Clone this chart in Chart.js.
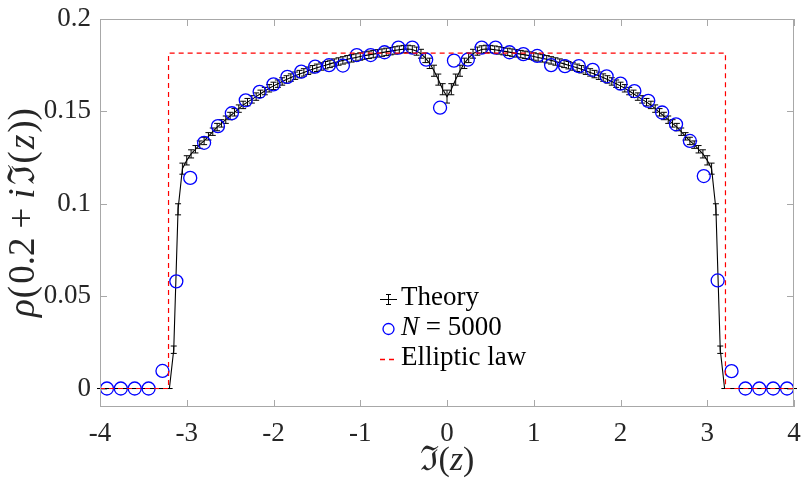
<!DOCTYPE html>
<html>
<head>
<meta charset="utf-8">
<script src="https://cdn.jsdelivr.net/npm/chart.js@4.4.0/dist/chart.umd.min.js"></script>
<style>
  html, body { margin: 0; padding: 0; background: #fff; }
  #wrap { width: 803px; height: 483px; }
</style>
</head>
<body>
<div id="wrap"><canvas id="chart" width="803" height="483"></canvas></div>
<script>
// ===============================
// Data
// ===============================
const xTicks = [-4, -3, -2, -1, 0, 1, 2, 3, 4];
const yTicks = [0, 0.05, 0.1, 0.15, 0.2];

// theory curve, sampled every 0.05 from -4 to 4
const theoryStart = -4;
const theoryStep = 0.05;
const theoryY = [
  0, 0, 0, 0, 0, 0, 0, 0, 0, 0, 0, 0, 0, 0, 0, 0, 0,
  0.021, 0.097, 0.119, 0.1235, 0.127, 0.1295, 0.132, 0.134, 0.1365, 0.139,
  0.1415, 0.1435, 0.1455, 0.1475, 0.1495, 0.1515, 0.1535, 0.155, 0.1565, 0.158,
  0.1595, 0.161, 0.1625, 0.1638, 0.165, 0.1662, 0.1673, 0.1683, 0.1693, 0.1702,
  0.1711, 0.172, 0.1728, 0.1736, 0.1743, 0.175, 0.1757, 0.1764, 0.177, 0.1776,
  0.1782, 0.1787, 0.1792, 0.1797, 0.1802, 0.1806, 0.181, 0.1814, 0.1818, 0.1822,
  0.1826, 0.183, 0.1834, 0.1837, 0.1838, 0.1835, 0.1826, 0.1812, 0.179, 0.176,
  0.172, 0.1672, 0.162,
  0.158,
  0.162, 0.1672, 0.172, 0.176, 0.179, 0.1812, 0.1826, 0.1835, 0.1838, 0.1837,
  0.1834, 0.183, 0.1826, 0.1822, 0.1818, 0.1814, 0.181, 0.1806, 0.1802, 0.1797,
  0.1792, 0.1787, 0.1782, 0.1776, 0.177, 0.1764, 0.1757, 0.175, 0.1743, 0.1736,
  0.1728, 0.172, 0.1711, 0.1702, 0.1693, 0.1683, 0.1673, 0.1662, 0.165, 0.1638,
  0.1625, 0.161, 0.1595, 0.158, 0.1565, 0.155, 0.1535, 0.1515, 0.1495, 0.1475,
  0.1455, 0.1435, 0.1415, 0.139, 0.1365, 0.134, 0.132, 0.1295, 0.127, 0.1235,
  0.119, 0.097, 0.021,
  0, 0, 0, 0, 0, 0, 0, 0, 0, 0, 0, 0, 0, 0, 0, 0, 0
];
const theoryErr = [
  0, 0, 0, 0, 0, 0, 0, 0, 0, 0, 0, 0, 0, 0, 0, 0, 0,
  0.002, 0.003, 0.003, 0.0025, 0.0022, 0.002, 0.002, 0.002, 0.002, 0.002,
  0.002, 0.002, 0.002, 0.002, 0.002, 0.002, 0.002, 0.002, 0.002, 0.002,
  0.002, 0.002, 0.002, 0.002, 0.002, 0.002, 0.002, 0.002, 0.002, 0.002,
  0.002, 0.002, 0.002, 0.002, 0.002, 0.002, 0.002, 0.002, 0.002, 0.002,
  0.002, 0.002, 0.002, 0.002, 0.002, 0.002, 0.002, 0.002, 0.002, 0.002,
  0.002, 0.002, 0.002, 0.002, 0.002, 0.002, 0.0022, 0.0024, 0.0026, 0.0028,
  0.003, 0.003, 0.003,
  0.0035,
  0.003, 0.003, 0.003, 0.0028, 0.0026, 0.0024, 0.0022, 0.002, 0.002, 0.002,
  0.002, 0.002, 0.002, 0.002, 0.002, 0.002, 0.002, 0.002, 0.002, 0.002,
  0.002, 0.002, 0.002, 0.002, 0.002, 0.002, 0.002, 0.002, 0.002, 0.002,
  0.002, 0.002, 0.002, 0.002, 0.002, 0.002, 0.002, 0.002, 0.002, 0.002,
  0.002, 0.002, 0.002, 0.002, 0.002, 0.002, 0.002, 0.002, 0.002, 0.002,
  0.002, 0.002, 0.002, 0.002, 0.002, 0.002, 0.002, 0.002, 0.0022, 0.0025,
  0.003, 0.003, 0.002,
  0, 0, 0, 0, 0, 0, 0, 0, 0, 0, 0, 0, 0, 0, 0, 0, 0
];

// histogram of N = 5000 eigenvalues, 50 bins of width 0.16 on [-4, 4]
const binStart = -3.92;
const binStep = 0.16;
const simY = [
  0, 0, 0, 0, 0.0095, 0.058, 0.114, 0.133, 0.142, 0.149,
  0.156, 0.1606, 0.1646, 0.1687, 0.1715, 0.1742, 0.175, 0.1748, 0.1805, 0.1805,
  0.182, 0.1845, 0.1845, 0.178, 0.152,
  0.1775, 0.178, 0.1845, 0.1845, 0.182, 0.181, 0.180, 0.175, 0.1745, 0.1745,
  0.1725, 0.169, 0.165, 0.161, 0.1557, 0.1494, 0.143, 0.134, 0.115, 0.0585,
  0.0094, 0, 0, 0, 0
];

// elliptic law (flat density inside the support)
const ellipticX = [-4, -3.21, -3.21, 3.21, 3.21, 4];
const ellipticY = [0, 0, 0.1815, 0.1815, 0, 0];

// ===============================
// Build datasets
// ===============================
const theoryPts = theoryY.map((v, i) => ({ x: +(theoryStart + i * theoryStep).toFixed(2), y: v }));
const simPts = simY.map((v, i) => ({ x: +(binStart + i * binStep).toFixed(2), y: v }));
const ellipticPts = ellipticX.map((x, i) => ({ x: x, y: ellipticY[i] }));

const SERIF = '"Liberation Serif", "DejaVu Serif", serif';
const AXIS_GREY = '#a8a8a8';

// draw a run of text pieces, some italic, centred on (x, y)
function drawRuns(ctx, runs, x, y, size) {
  let total = 0;
  runs.forEach(r => {
    ctx.font = (r.it ? 'italic ' : '') + size + 'px ' + SERIF;
    r.w = ctx.measureText(r.t).width + (r.gap || 0) * 2;
    total += r.w;
  });
  let cx = x - total / 2;
  runs.forEach(r => {
    ctx.font = (r.it ? 'italic ' : '') + size + 'px ' + SERIF;
    ctx.fillText(r.t, cx + (r.gap || 0), y);
    cx += r.w;
  });
}

function drawRunsLeft(ctx, runs, x, y, size) {
  let cx = x;
  runs.forEach(r => {
    ctx.font = (r.it ? 'italic ' : '') + size + 'px ' + SERIF;
    ctx.fillText(r.t, cx, y);
    cx += ctx.measureText(r.t).width;
  });
}

const decorPlugin = {
  id: 'decor',
  afterDatasetDraw(chart, args) {
    if (args.index !== 0) return;
    // error bars for the theory curve
    const ctx = chart.ctx;
    const xs = chart.scales.x, ys = chart.scales.y;
    ctx.save();
    ctx.strokeStyle = '#000';
    ctx.lineWidth = 1;
    theoryPts.forEach((p, i) => {
      const e = theoryErr[i];
      const px = xs.getPixelForValue(p.x);
      const top = ys.getPixelForValue(p.y + e);
      const bot = ys.getPixelForValue(p.y - e);
      ctx.beginPath();
      ctx.moveTo(px, top); ctx.lineTo(px, bot);
      ctx.moveTo(px - 3, top); ctx.lineTo(px + 3, top);
      ctx.moveTo(px - 3, bot); ctx.lineTo(px + 3, bot);
      ctx.stroke();
    });
    ctx.restore();
  },
  afterDraw(chart) {
    const ctx = chart.ctx;
    const a = chart.chartArea;
    const xs = chart.scales.x, ys = chart.scales.y;
    ctx.save();
    // axes box with inward ticks
    ctx.strokeStyle = AXIS_GREY;
    ctx.lineWidth = 1;
    ctx.strokeRect(a.left + 0.5, a.top + 0.5, a.right - a.left - 1, a.bottom - a.top - 1);
    ctx.beginPath();
    xTicks.forEach(v => {
      const px = Math.round(xs.getPixelForValue(v)) + 0.5;
      ctx.moveTo(px, a.bottom); ctx.lineTo(px, a.bottom - 7);
      ctx.moveTo(px, a.top); ctx.lineTo(px, a.top + 7);
    });
    yTicks.forEach(v => {
      const py = Math.round(ys.getPixelForValue(v)) + 0.5;
      ctx.moveTo(a.left, py); ctx.lineTo(a.left + 7, py);
      ctx.moveTo(a.right, py); ctx.lineTo(a.right - 7, py);
    });
    ctx.stroke();

    // axis titles
    ctx.fillStyle = '#262626';
    ctx.textBaseline = 'middle';
    ctx.textAlign = 'left';
    drawRuns(ctx, [{ t: 'ℑ' }, { t: '(' }, { t: 'z', it: true }, { t: ')' }],
      (a.left + a.right) / 2, 461, 34);
    ctx.save();
    ctx.translate(24, (a.top + a.bottom) / 2);
    ctx.rotate(-Math.PI / 2);
    drawRuns(ctx, [
      { t: 'ρ', it: true, gap: 1 }, { t: '(' }, { t: '0.2', gap: 2 }, { t: '+', gap: 7 },
      { t: 'i', it: true, gap: 2 }, { t: 'ℑ', gap: 1 }, { t: '(' }, { t: 'z', it: true, gap: 2 },
      { t: ')' }, { t: ')' }
    ], 0, 0, 37);
    ctx.restore();

    // legend
    ctx.fillStyle = '#000';
    ctx.strokeStyle = '#000';
    ctx.lineWidth = 1;
    ctx.beginPath();
    ctx.moveTo(380, 299.5); ctx.lineTo(397, 299.5);
    ctx.moveTo(388.5, 294); ctx.lineTo(388.5, 305);
    ctx.moveTo(386, 294.5); ctx.lineTo(391, 294.5);
    ctx.moveTo(386, 304.5); ctx.lineTo(391, 304.5);
    ctx.stroke();
    drawRunsLeft(ctx, [{ t: 'Theory' }], 401, 298, 27);

    ctx.strokeStyle = '#0000ff';
    ctx.lineWidth = 1.3;
    ctx.beginPath();
    ctx.arc(388.5, 329, 5.5, 0, Math.PI * 2);
    ctx.stroke();
    drawRunsLeft(ctx, [{ t: 'N', it: true }, { t: ' = 5000' }], 401, 328, 27);

    ctx.strokeStyle = '#ff0000';
    ctx.lineWidth = 1.3;
    ctx.setLineDash([5, 4]);
    ctx.beginPath();
    ctx.moveTo(380, 359.5); ctx.lineTo(398, 359.5);
    ctx.stroke();
    ctx.setLineDash([]);
    drawRunsLeft(ctx, [{ t: 'Elliptic law' }], 401, 358, 27);
    ctx.restore();
  }
};

const ctx = document.getElementById('chart').getContext('2d');
new Chart(ctx, {
  type: 'scatter',
  data: {
    datasets: [
      {
        label: 'Theory',
        data: theoryPts,
        showLine: true,
        borderColor: '#000',
        borderWidth: 1.1,
        pointRadius: 0,
        tension: 0,
        order: 3
      },
      {
        label: 'N = 5000',
        data: simPts,
        showLine: false,
        borderColor: '#0000ff',
        backgroundColor: 'rgba(0,0,0,0)',
        borderWidth: 1.3,
        pointRadius: 6.5,
        pointStyle: 'circle',
        order: 2
      },
      {
        label: 'Elliptic law',
        data: ellipticPts,
        showLine: true,
        borderColor: '#ff0000',
        borderWidth: 1.2,
        borderDash: [5, 4],
        pointRadius: 0,
        tension: 0,
        order: 1
      }
    ]
  },
  options: {
    responsive: false,
    devicePixelRatio: 1,
    animation: false,
    layout: { padding: { top: 19, right: 9, left: 0, bottom: 0 } },
    plugins: {
      legend: { display: false },
      tooltip: { enabled: false }
    },
    scales: {
      x: {
        type: 'linear',
        min: -4,
        max: 4,
        grid: { display: false, drawTicks: false },
        border: { display: false },
        afterBuildTicks: s => { s.ticks = xTicks.map(v => ({ value: v })); },
        afterFit: s => { s.height = 76; s.paddingLeft = 0; s.paddingRight = 0; },
        ticks: {
          color: '#262626',
          padding: 11,
          maxRotation: 0,
          font: { family: SERIF, size: 27 },
          callback: v => String(v)
        }
      },
      y: {
        type: 'linear',
        min: -0.01,
        max: 0.2,
        grid: { display: false, drawTicks: false },
        border: { display: false },
        afterBuildTicks: s => { s.ticks = yTicks.map(v => ({ value: v })); },
        afterFit: s => { s.width = 100; s.paddingTop = 0; s.paddingBottom = 0; },
        ticks: {
          color: '#262626',
          padding: 9,
          font: { family: SERIF, size: 27 },
          callback: v => String(+v.toFixed(2))
        }
      }
    }
  },
  plugins: [decorPlugin]
});
</script>
</body>
</html>
